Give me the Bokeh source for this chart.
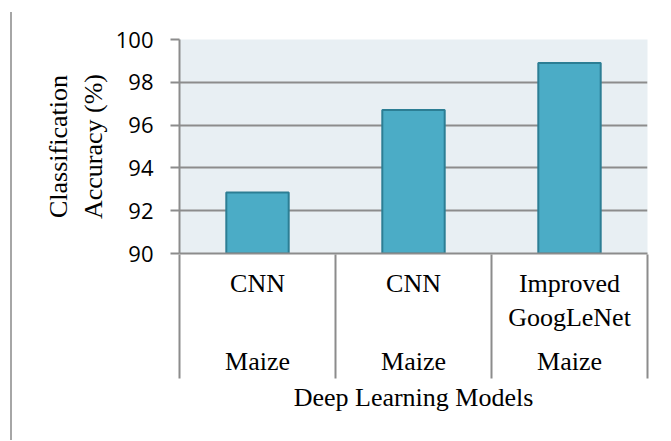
from bokeh.plotting import figure
from bokeh.models import FixedTicker, LinearAxis, Range1d
from bokeh.embed import file_html
from bokeh.resources import INLINE

# ---- data ----
models = ["CNN", "CNN", "Improved\nGoogLeNet"]
crops = ["Maize", "Maize", "Maize"]
accuracy = [92.85, 96.7, 98.9]
y_ticks = [90, 92, 94, 96, 98, 100]
x_title = "Deep Learning Models"
y_title = "Classification\nAccuracy (%)"

n = len(models)
xs = [i + 0.5 for i in range(n)]
bounds = list(range(n + 1))

GRID = "#8c8c8c"
SERIF = "Liberation Serif"

p = figure(width=660, height=440, output_backend="svg", toolbar_location=None,
           x_range=Range1d(0, n), y_range=Range1d(y_ticks[0], y_ticks[-1]),
           min_border_left=179, min_border_right=13, min_border_top=39,
           min_border_bottom=187)
p.border_fill_color = None
p.background_fill_color = "#E8EFF3"
p.outline_line_color = None
p.styles = {"background": "linear-gradient(#a6a6a6, #a6a6a6) 10px 12px / 2px 100% no-repeat"}

p.vbar(x=xs, top=accuracy, bottom=y_ticks[0], width=0.4,
       fill_color="#4BACC6", line_color="#2C7E94", line_width=2)

# grid
p.xgrid.visible = False
p.ygrid.ticker = FixedTicker(ticks=y_ticks)
p.ygrid.grid_line_color = GRID
p.ygrid.grid_line_width = 2

# y axis
ya = p.yaxis[0]
ya.ticker = FixedTicker(ticks=y_ticks)
ya.axis_line_color = GRID
ya.axis_line_width = 2
ya.major_tick_line_color = GRID
ya.major_tick_line_width = 2
ya.major_tick_out = 9
ya.major_tick_in = 0
ya.minor_tick_line_color = None
ya.major_label_standoff = 17
ya.major_label_text_font = "Open Sans"
ya.major_label_text_font_size = "22px"
ya.major_label_text_color = "black"
ya.axis_label = y_title
ya.axis_label_text_font = SERIF
ya.axis_label_text_font_size = "26px"
ya.axis_label_text_font_style = "normal"
ya.axis_label_text_color = "black"
ya.axis_label_standoff = 5

# x axis, level 1 (models)
xa = p.xaxis[0]
xa.ticker = FixedTicker(ticks=xs)
xa.major_label_overrides = {x: m for x, m in zip(xs, models)}
xa.axis_line_color = GRID
xa.axis_line_width = 2
xa.major_tick_line_color = None
xa.minor_tick_line_color = None
xa.major_tick_out = 0
xa.major_tick_in = 0
xa.major_label_standoff = 15
xa.major_label_text_font = SERIF
xa.major_label_text_font_size = "26px"
xa.major_label_text_color = "black"

# x axis, level 2 (crops)
xb = LinearAxis(ticker=FixedTicker(ticks=xs),
                major_label_overrides={x: c for x, c in zip(xs, crops)})
xb.axis_line_color = None
xb.major_tick_line_color = None
xb.minor_tick_line_color = None
xb.major_tick_out = 0
xb.major_tick_in = 0
xb.major_label_standoff = 11
xb.major_label_text_font = SERIF
xb.major_label_text_font_size = "26px"
xb.major_label_text_color = "black"
p.add_layout(xb, "below")

# x axis, separators (minor ticks pointing back up to the plot) + title
xc = LinearAxis(ticker=FixedTicker(ticks=[], minor_ticks=bounds))
xc.axis_line_color = None
xc.major_tick_line_color = None
xc.major_tick_out = 0
xc.major_tick_in = 0
xc.minor_tick_line_color = GRID
xc.minor_tick_line_width = 2
xc.minor_tick_out = 0
xc.minor_tick_in = 124
xc.major_label_standoff = 0
xc.axis_label = x_title
xc.axis_label_text_font = SERIF
xc.axis_label_text_font_size = "26px"
xc.axis_label_text_font_style = "normal"
xc.axis_label_text_color = "black"
xc.axis_label_standoff = 4
p.add_layout(xc, "below")

open("out.html", "w").write(file_html(p, INLINE))
